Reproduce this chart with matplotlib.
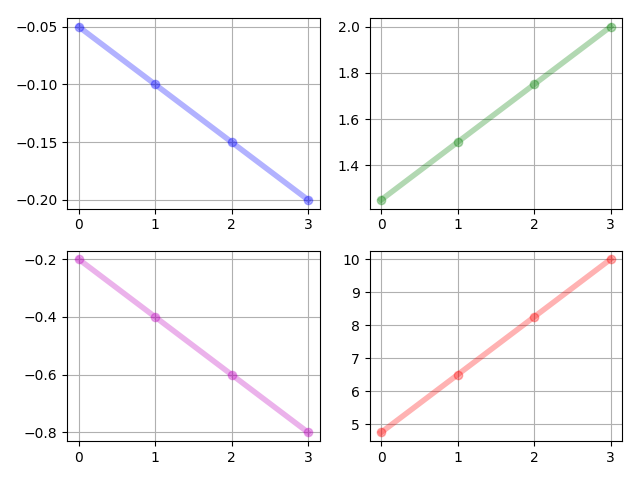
import matplotlib
matplotlib.use("Agg")
import matplotlib.pyplot as plt

x = [0, 1, 2, 3]
blue_vals = [-0.05, -0.10, -0.15, -0.20]
green_vals = [1.25, 1.50, 1.75, 2.00]
magenta_vals = [-0.2, -0.4, -0.6, -0.8]
red_vals = [4.75, 6.50, 8.25, 10.00]

series = [(blue_vals, 'b'), (green_vals, 'g'), (magenta_vals, 'm'), (red_vals, 'r')]

fig, axes = plt.subplots(2, 2, figsize=(6.4, 4.8), dpi=100)
for ax, (vals, c) in zip(axes.flat, series):
    ax.plot(x, vals, 'o-', color=c, alpha=0.3, lw=4)
    ax.grid(True)

fig.subplots_adjust(left=0.105, right=0.972, top=0.9625, bottom=0.081,
                    wspace=0.198, hspace=0.22)
fig.savefig("out.png")
